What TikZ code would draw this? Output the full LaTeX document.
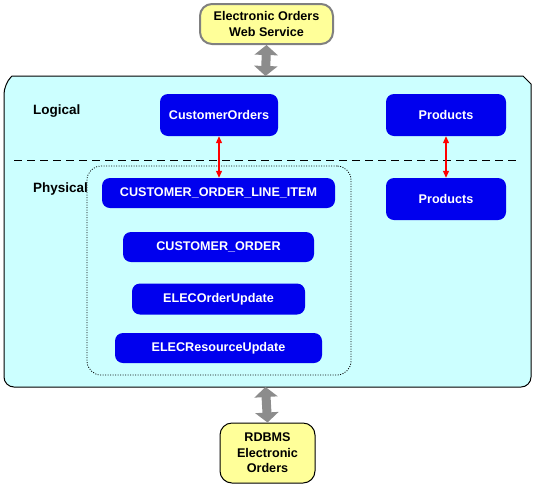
\documentclass[tikz,border=0pt]{standalone}
\usepackage{fontspec}
\setmainfont{Liberation Sans}
\usetikzlibrary{arrows.meta}
\definecolor{ylw}{RGB}{255,255,153}
\definecolor{cyanbg}{RGB}{204,255,255}
\definecolor{bluebox}{RGB}{0,0,238}
\definecolor{grayarr}{RGB}{140,140,140}
\definecolor{grayline}{RGB}{128,128,128}
\begin{document}
\begin{tikzpicture}[x=1pt,y=-1pt,
  txt/.style={font=\fontsize{12.6}{15.5}\selectfont\bfseries},
  extbox/.style={txt,draw=black,line width=1pt,fill=ylw,rounded corners=12pt,align=center,inner sep=0pt},
  entity/.style={txt,fill=bluebox,text=white,rounded corners=8pt,inner sep=0pt},
  label/.style={font=\fontsize{13.5}{16}\selectfont\bfseries,anchor=west,inner sep=0pt},
  bigarrow/.style={grayarr,line width=9pt,{Triangle[width=23pt,length=10pt]}-{Triangle[width=23pt,length=10pt]}},
  maparrow/.style={red,line width=1.1pt,{Triangle[width=6pt,length=7pt]}-{Triangle[width=6pt,length=7pt]}}
]
\useasboundingbox (0,0) rectangle (534,485);
% main container
\path[draw=black,line width=1pt,fill=cyanbg,rounded corners=0pt]
  (4,84) -- (12,76) -- (523,76) -- (531,84) [rounded corners=10pt] -- (531,387) -- (4,387) -- cycle;
\coordinate (mainTop) at (265.5,76);
\coordinate (mainBot) at (265.5,387);
% dashed separator
\coordinate (sepL) at (14,160);
\coordinate (sepR) at (518,160);
\draw[line width=1pt,dash pattern=on 8pt off 5pt] (sepL) -- (sepR);
% external systems
\node[extbox,draw=grayline,line width=2pt,minimum width=133pt,minimum height=40pt] (ws) at (266.5,24) {Electronic Orders\\Web Service};
\node[extbox,minimum width=95pt,minimum height=60pt] (db) at (267.5,453) {RDBMS\\Electronic\\Orders};
% labels
\node[label] (logical) at (33,111) {Logical};
\node[label] (physical) at (33,189) {Physical};
% dotted group
\node[draw=black,dash pattern=on 1pt off 1.5pt,line width=0.8pt,rounded corners=14pt,minimum width=264pt,minimum height=209pt,inner sep=0pt] (grp) at (219,270.5) {};
% entities
\node[entity,minimum width=118pt,minimum height=42pt] (co) at (219,115) {CustomerOrders};
\node[entity,minimum width=120pt,minimum height=42pt] (pl) at (446,115) {Products};
\node[entity,minimum width=120pt,minimum height=42pt] (pp) at (446,199) {Products};
\node[entity,minimum width=233pt,minimum height=30pt] (coli) at (218.5,193) {CUSTOMER\_ORDER\_LINE\_ITEM};
\node[entity,minimum width=191pt,minimum height=30pt] (cord) at (218.5,247) {CUSTOMER\_ORDER};
\node[entity,minimum width=173pt,minimum height=31pt] (eou) at (218.5,299) {ELECOrderUpdate};
\node[entity,minimum width=207pt,minimum height=30pt] (eru) at (218.5,348) {ELECResourceUpdate};
% connectors
\draw[bigarrow] (ws.south) -- (mainTop);
\draw[bigarrow] (mainBot) -- (db.north);
\draw[maparrow] (co.south) -- (co.south |- coli.north);
\draw[maparrow] (pl.south) -- (pp.north);
\end{tikzpicture}
\end{document}
